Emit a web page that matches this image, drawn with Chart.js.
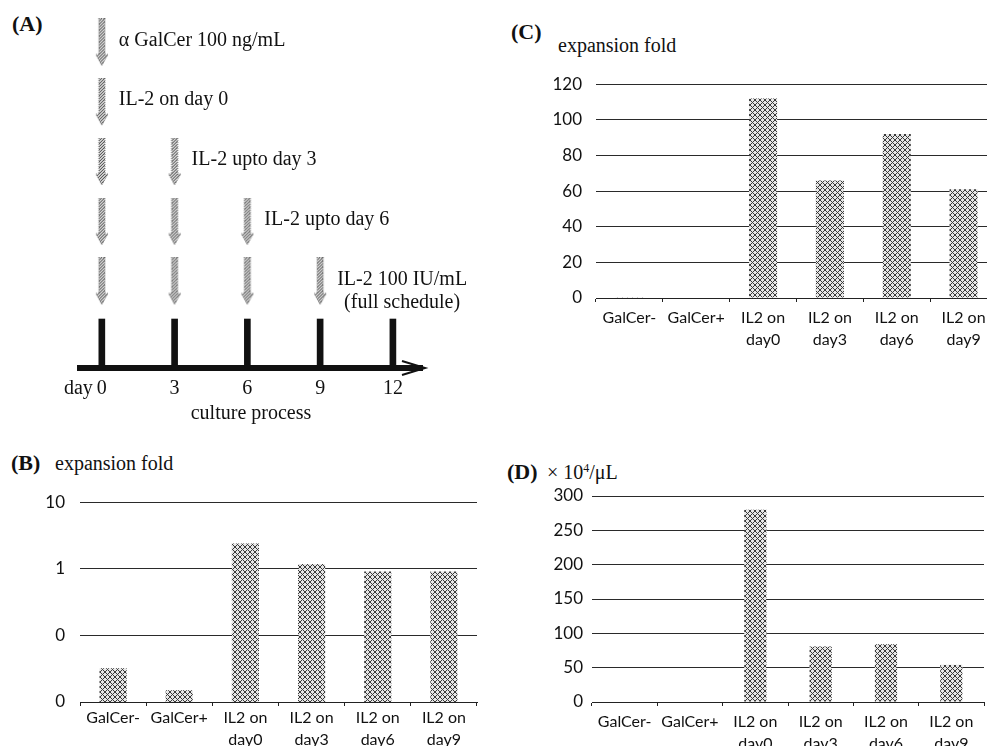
<!DOCTYPE html>
<html>
<head>
<meta charset="utf-8">
<script src="https://cdn.jsdelivr.net/npm/chart.js@4.4.1/dist/chart.umd.min.js"></script>
<style>
  html, body { margin: 0; padding: 0; background: #fff; }
  body { width: 987px; height: 746px; position: relative; overflow: hidden; font-family: "Liberation Serif", serif; color: #111; }
  canvas { position: absolute; }
  .lbl { position: absolute; white-space: nowrap; line-height: 1; }
  .tag { font-weight: bold; font-size: 22px; }
  .ttl { font-size: 20px; }
  .ttl sup { font-size: 12px; vertical-align: 7px; }
</style>
</head>
<body>
<div class="lbl tag" style="left:12px;top:13px">(A)</div>
<div class="lbl tag" style="left:11px;top:452px">(B)</div>
<div class="lbl ttl" style="left:55px;top:453px">expansion fold</div>
<div class="lbl tag" style="left:511px;top:21px">(C)</div>
<div class="lbl ttl" style="left:558px;top:35px">expansion fold</div>
<div class="lbl tag" style="left:507px;top:461px">(D)</div>
<div class="lbl ttl" style="left:547px;top:462px">× 10<sup>4</sup>/μL</div>

<canvas id="schemeA" width="480" height="430" style="left:0;top:0"></canvas>
<canvas id="chartB" width="480" height="279" style="left:0;top:477px"></canvas>
<canvas id="chartC" width="480" height="300" style="left:520px;top:60px"></canvas>
<canvas id="chartD" width="467" height="280" style="left:520px;top:476px"></canvas>

<script>
// (A) culture schedule
const days = [0, 3, 6, 9, 12];
const doseLabels = [['α GalCer 100 ng/mL'], ['IL-2 on day 0'], ['IL-2 upto day 3'], ['IL-2 upto day 6'], ['IL-2 100 IU/mL', '(full schedule)']];
const doseDays = [[0], [0], [0, 3], [0, 3, 6], [0, 3, 6, 9]];

// (B)-(D) groups and values
const groups = ['GalCer-', 'GalCer+', ['IL2 on', 'day0'], ['IL2 on', 'day3'], ['IL2 on', 'day6'], ['IL2 on', 'day9']];
const foldLog = [0.032, 0.015, 2.4, 1.18, 0.91, 0.91];
const logTicks = [0.01, 0.1, 1, 10];
const logTickLabels = ['0', '0', '1', '10'];
const foldLinear = [0.4, 0.3, 112, 66, 92, 61];
const cellCount = [0, 0, 280, 81, 84, 54];

// crosshatch fill like the scanned bars
function makeHatch() {
  const t = document.createElement('canvas');
  t.width = 5; t.height = 5;
  const c = t.getContext('2d');
  c.fillStyle = '#e6e6e6';
  c.fillRect(0, 0, 5, 5);
  c.strokeStyle = '#3a3a3a';
  c.lineWidth = 1;
  c.beginPath();
  c.moveTo(0, 0); c.lineTo(5, 5);
  c.moveTo(5, 0); c.lineTo(0, 5);
  c.stroke();
  return c.createPattern(t, 'repeat');
}
const hatch = makeHatch();

// dotted grey down arrow used as point style
function makeArrow() {
  const a = document.createElement('canvas');
  a.width = 14; a.height = 48;
  const c = a.getContext('2d');
  const t = document.createElement('canvas');
  t.width = 3; t.height = 3;
  const tc = t.getContext('2d');
  tc.fillStyle = '#d8d8d8'; tc.fillRect(0, 0, 3, 3);
  tc.fillStyle = '#444'; tc.fillRect(0, 0, 1, 1); tc.fillRect(2, 1, 1, 1); tc.fillRect(1, 2, 1, 1);
  c.fillStyle = c.createPattern(t, 'repeat');
  c.beginPath();
  c.moveTo(4, 0); c.lineTo(10, 0); c.lineTo(10, 36); c.lineTo(13, 36);
  c.lineTo(7, 47); c.lineTo(1, 36); c.lineTo(4, 36); c.closePath();
  c.fill();
  c.strokeStyle = '#777'; c.lineWidth = 1; c.setLineDash([1, 1]);
  c.stroke();
  return a;
}

const schemeText = {
  id: 'schemeText',
  afterDatasetsDraw(chart) {
    const {ctx, scales: {x, y}, chartArea} = chart;
    ctx.save();
    ctx.fillStyle = '#111';
    ctx.font = '20px "Liberation Serif"';
    ctx.textBaseline = 'middle';
    ctx.textAlign = 'center';
    doseLabels.forEach((lines, i) => {
      const last = doseDays[i][doseDays[i].length - 1];
      const left = x.getPixelForValue(last) + 17;
      const mid = y.getPixelForValue(i + 1) - 2;
      const w0 = ctx.measureText(lines[0]).width;
      lines.forEach((t, k) => ctx.fillText(t, left + w0 / 2, mid + k * 23));
    });
    // "day" in front of the first tick label
    ctx.textAlign = 'right';
    ctx.fillText('day', x.getPixelForValue(days[0]) - 9, chartArea.bottom + 21);
    // arrow head of the time line
    const yb = chartArea.bottom, xr = chartArea.right;
    ctx.strokeStyle = '#111';
    ctx.lineWidth = 2;
    ctx.beginPath();
    ctx.moveTo(xr - 20, yb - 7); ctx.lineTo(xr + 3, yb); ctx.lineTo(xr - 20, yb + 7);
    ctx.stroke();
    ctx.restore();
  }
};

new Chart(document.getElementById('schemeA'), {
  type: 'scatter',
  data: {
    datasets: [
      {
        data: doseDays.flatMap((ds, i) => ds.map(d => ({x: d, y: i + 1}))),
        pointStyle: makeArrow(),
        pointRadius: 5
      },
      {
        type: 'bar',
        data: days.map(d => ({x: d, y: [5.63, 6.45]})),
        backgroundColor: '#111',
        barThickness: 6,
        borderWidth: 0
      }
    ]
  },
  options: {
    responsive: false,
    animation: false,
    layout: { padding: { left: 80, right: 58, top: 0, bottom: 0 } },
    plugins: { legend: { display: false }, tooltip: { enabled: false } },
    scales: {
      x: {
        type: 'linear',
        offset: false,
        min: -0.9, max: 13.2,
        afterBuildTicks: s => { s.ticks = days.map(v => ({value: v})); },
        grid: { display: false, drawTicks: false, offset: false },
        border: { display: true, color: '#111', width: 6 },
        ticks: { font: { family: 'Liberation Serif', size: 20 }, color: '#111', padding: 9 },
        title: { display: true, text: 'culture process', font: { family: 'Liberation Serif', size: 20 }, color: '#111', padding: { top: 4, bottom: 4 } },
        afterFit: s => { s.height = 62; }
      },
      y: {
        display: false,
        reverse: true,
        min: 0.39, max: 6.45
      }
    }
  },
  plugins: [schemeText]
});

function barChart(id, values, yScale, opt) {
  return new Chart(document.getElementById(id), {
    type: 'bar',
    data: {
      labels: groups,
      datasets: [{ data: values, backgroundColor: hatch, borderWidth: 0, barPercentage: opt.bar, categoryPercentage: 1 }]
    },
    options: {
      responsive: false,
      animation: false,
      layout: { padding: { top: 20, right: 3, left: 0, bottom: 0 } },
      plugins: { legend: { display: false }, tooltip: { enabled: false } },
      scales: {
        x: {
          grid: { drawOnChartArea: false, tickLength: 4, color: '#222' },
          border: { color: '#222' },
          ticks: { font: { family: 'Lato', size: 16, lineHeight: 1.35 }, color: '#111', padding: opt.xpad, maxRotation: 0, autoSkip: false },
          afterFit: s => { s.height = opt.xh; }
        },
        y: Object.assign({
          grid: { color: '#2a2a2a', drawTicks: false },
          border: { display: false },
          afterFit: s => { s.width = opt.yw; }
        }, yScale)
      }
    }
  });
}

barChart('chartB', foldLog, {
  type: 'logarithmic',
  min: 0.01, max: 10,
  afterBuildTicks: s => { s.ticks = logTicks.map(v => ({value: v})); },
  ticks: { font: { family: 'Lato', size: 17 }, color: '#111', padding: 15, callback: (v, i) => logTickLabels[i] }
}, { bar: 0.41, xpad: 1, xh: 54, yw: 80 });

barChart('chartC', foldLinear, {
  min: 0, max: 120,
  ticks: { stepSize: 20, font: { family: 'Lato', size: 17 }, color: '#111', padding: 14 }
}, { bar: 0.42, xpad: 5, xh: 62, yw: 76 });

barChart('chartD', cellCount, {
  min: 0, max: 300,
  ticks: { stepSize: 50, font: { family: 'Lato', size: 17 }, color: '#111', padding: 9 }
}, { bar: 0.34, xpad: 5, xh: 54, yw: 72 });
</script>
</body>
</html>
